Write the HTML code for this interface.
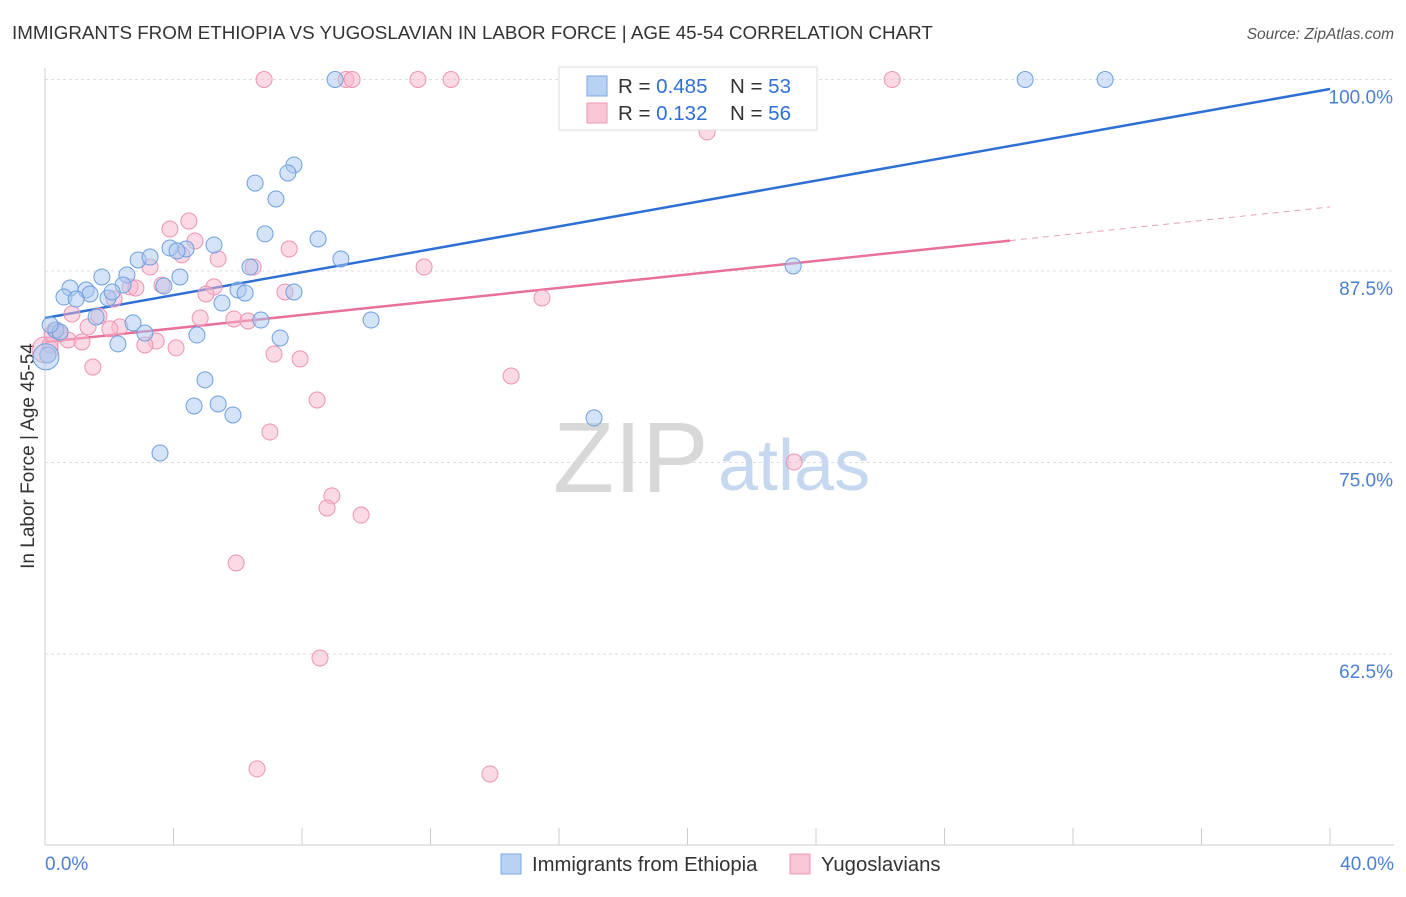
<!DOCTYPE html>
<html><head><meta charset="utf-8"><style>
body{margin:0;background:#fff;font-family:"Liberation Sans",sans-serif;}
svg text{font-family:"Liberation Sans",sans-serif;}
</style></head><body>
<svg id="chart" width="1406" height="892">
<text x="12" y="39" font-size="18.8" fill="#333">IMMIGRANTS FROM ETHIOPIA VS YUGOSLAVIAN IN LABOR FORCE | AGE 45-54 CORRELATION CHART</text>
<text x="1394" y="39" font-size="15.5" fill="#555" text-anchor="end" font-style="italic">Source: ZipAtlas.com</text>
<text x="34" y="456" font-size="19" fill="#333" text-anchor="middle" transform="rotate(-90 34 456)">In Labor Force | Age 45-54</text>
<g id="grid"></g><g id="axes"></g>
<text x="553" y="492" font-size="100" fill="#d8d8d8" font-family="Liberation Serif">ZIP</text>
<text x="718" y="490" font-size="72" fill="#c6d8ef">atlas</text>
<g id="lines"></g><g id="pts"></g>
<g>
<rect x="559" y="67" width="258" height="63" fill="#fff" stroke="#ddd"/>
<rect x="587" y="76" width="20" height="20" fill="#b8d2f3" stroke="#7aa7e4"/>
<rect x="587" y="103" width="20" height="20" fill="#f9c6d6" stroke="#ee9ab6"/>
<text x="618" y="93" font-size="20.5" fill="#333">R = <tspan fill="#2e6fd6">0.485</tspan></text>
<text x="730" y="93" font-size="20.5" fill="#333">N = <tspan fill="#2e6fd6">53</tspan></text>
<text x="618" y="120" font-size="20.5" fill="#333">R = <tspan fill="#2e6fd6"> 0.132</tspan></text>
<text x="730" y="120" font-size="20.5" fill="#333">N = <tspan fill="#2e6fd6">56</tspan></text>
</g>
<g>
<rect x="501" y="854" width="20" height="20" fill="#b8d2f3" stroke="#7aa7e4"/>
<text x="532" y="871" font-size="20.3" fill="#333">Immigrants from Ethiopia</text>
<rect x="790" y="854" width="20" height="20" fill="#f9c6d6" stroke="#ee9ab6"/>
<text x="821" y="871" font-size="20.3" fill="#333">Yugoslavians</text>
</g>
</svg>
<script>
const xTicks=[0,4,8,12,16,20,24,28,32,36,40];
const yTicks=[100,87.5,75,62.5];
const blueX=[9.03,30.51,33.0,7.75,7.56,6.54,7.19,6.85,8.50,5.26,3.89,4.39,4.11,9.21,2.90,3.27,6.38,1.77,2.55,4.20,3.70,2.43,0.78,1.28,1.40,0.59,0.97,1.96,2.09,6.01,6.23,7.75,5.51,1.59,6.72,10.15,2.74,3.11,4.73,7.32,2.27,0.09,4.98,4.64,5.39,5.85,3.58,17.09,23.29,0.34,0.47,0.16,0.03];
const blueY=[100,100,100,94.42,93.90,93.24,92.20,89.92,89.59,89.20,89.00,88.94,88.81,88.28,88.22,88.41,87.76,87.11,87.24,87.11,86.52,86.59,86.39,86.26,86.00,85.80,85.67,85.74,86.13,86.26,86.06,86.13,85.41,84.50,84.30,84.30,84.11,83.45,83.32,83.13,82.74,82.02,80.39,78.69,78.82,78.10,75.62,77.91,87.83,83.65,83.52,83.98,81.9];
const pinkX=[6.82,9.37,9.56,11.61,12.64,26.37,20.61,4.48,3.89,4.67,7.60,4.26,5.39,6.48,3.27,11.80,2.65,2.83,3.64,5.26,5.01,7.47,2.15,15.47,4.83,5.88,6.32,0.84,1.68,1.34,2.33,0.31,2.02,0.47,0.72,1.15,3.46,3.11,4.08,7.13,7.94,1.49,14.51,8.47,7.00,23.32,8.93,8.78,9.84,5.95,8.56,6.60,13.85,0,0.16,0.22];
const pinkY=[100,100,100,100,100,100,96.57,90.76,90.24,89.46,88.94,88.55,88.28,87.76,87.76,87.76,86.46,86.39,86.59,86.46,86.00,86.13,85.67,85.74,84.43,84.37,84.24,84.69,84.56,83.85,83.85,83.65,83.72,83.39,83.00,82.87,82.93,82.67,82.48,82.08,81.76,81.23,80.65,79.08,76.99,75.03,72.82,72.03,71.57,68.44,62.24,55.00,54.67,82.35,82.67,83.39];
const blueTrend=[84.43,99.38];
const pinkTrend=[82.87,91.68];
const pinkSolidEnd=30.04;
const NS='http://www.w3.org/2000/svg';
const X=v=>45+v/40*1285;
const Y=v=>79.5+(100-v)/12.5*191.5;
function mk(t,a,p){const e=document.createElementNS(NS,t);for(const k in a)e.setAttribute(k,a[k]);p.appendChild(e);return e;}
const grid=document.getElementById('grid'),axes=document.getElementById('axes');
yTicks.forEach(v=>{
 const l=mk('line',{x1:45,x2:1394,y1:Y(v),y2:Y(v),stroke:'#ddd','stroke-dasharray':'3,3'},grid);
 
 
 const t=mk('text',{x:1393,y:Y(v)+24,'font-size':19,fill:'#4a7fd4','text-anchor':'end'},axes);
 t.textContent=(v===100?'100.0':v.toFixed(1))+'%';
 
 
});
mk('line',{x1:45,x2:45,y1:68,y2:845,stroke:'#ccc'},axes);
mk('line',{x1:45,x2:1394,y1:845,y2:845,stroke:'#ccc'},axes);
xTicks.forEach(v=>{
 const l=mk('line',{x1:X(v),x2:X(v),y1:828,y2:845,stroke:'#ccc'},axes);
 
 
});
[[0,45,'start'],[40,1394,'end']].forEach(([v,x,a])=>{
 const t=mk('text',{x:x,y:870,'font-size':19,fill:'#4a7fd4','text-anchor':a},axes);
 t.textContent=v.toFixed(1)+'%';
 
 
});
const pts=document.getElementById('pts');
function dots(xs,ys,fill,stroke,name){
 xs.forEach((x,i)=>{
  const big=(x<0.05);
  const c=mk('circle',{cx:X(x),cy:Y(ys[i]),r:big?13:8,fill:fill,stroke:stroke,'stroke-width':1,'fill-opacity':0.5},pts);
  
  
 });
}
dots(pinkX,pinkY,'#f7b6cb','#ec93b2','yugoslavian-point');
dots(blueX,blueY,'#a9c8f0','#6d9fe0','ethiopia-point');
const lines=document.getElementById('lines');
let b=mk('line',{x1:X(0),y1:Y(blueTrend[0]),x2:X(40),y2:Y(blueTrend[1]),stroke:'#2e6fd6','stroke-width':2.5},lines);


const py=x=>pinkTrend[0]+(pinkTrend[1]-pinkTrend[0])*x/40;
let p=mk('line',{x1:X(0),y1:Y(py(0)),x2:X(pinkSolidEnd),y2:Y(py(pinkSolidEnd)),stroke:'#e8709a','stroke-width':2.5},lines);


let pd=mk('line',{x1:X(pinkSolidEnd),y1:Y(py(pinkSolidEnd)),x2:X(40),y2:Y(py(40)),stroke:'#e8a0b8','stroke-width':1,'stroke-dasharray':'6,5'},lines);


</script>
</body></html>
